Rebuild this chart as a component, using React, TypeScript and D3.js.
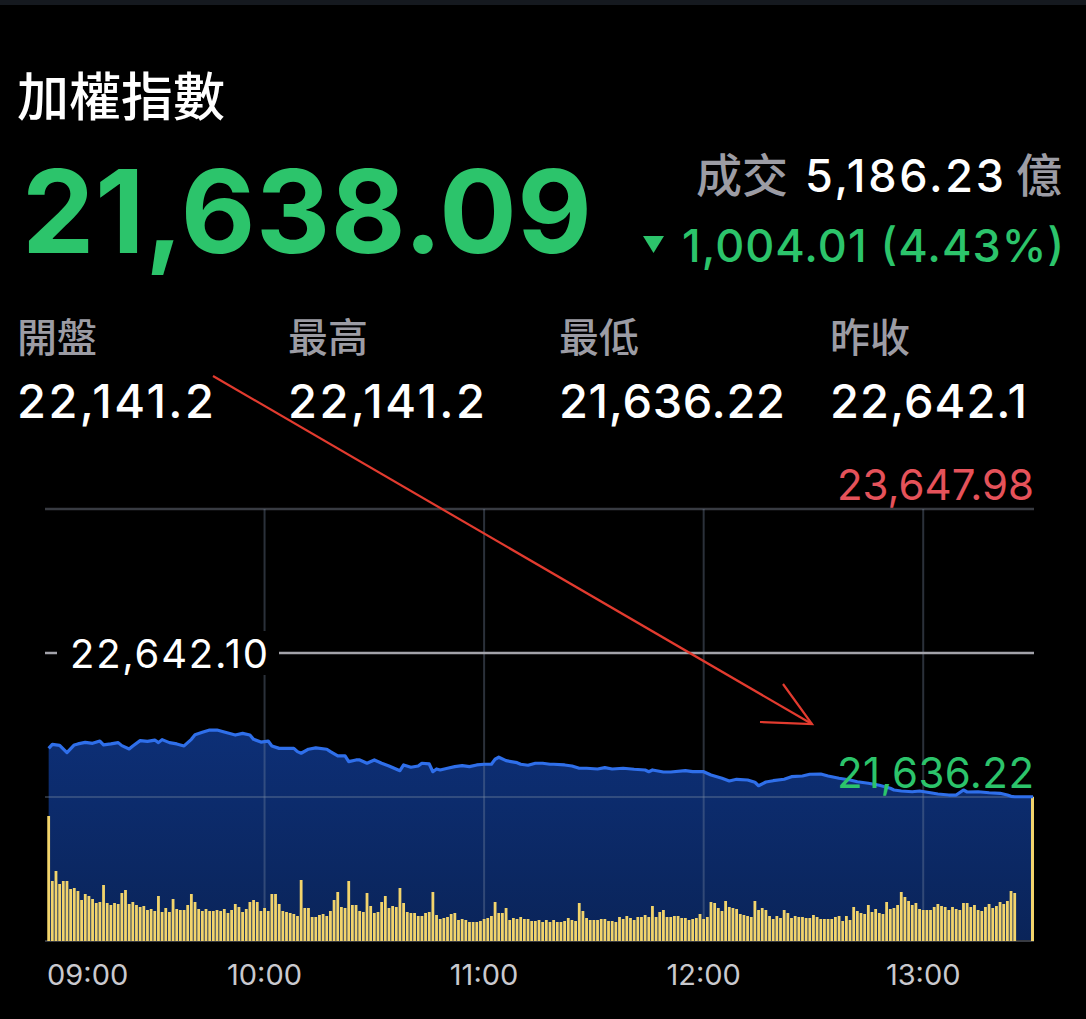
import React from 'react';
import * as d3 from 'd3';

const W = 1086, H = 1019;

// header figures
const indexName = '加權指數';
const lastPrice = '21,638.09';
const turnoverLabel = '成交';
const turnoverValue = '5,186.23';
const turnoverUnit = '億';
const changeText = '1,004.01 (4.43%)';
const statLabels = ['開盤', '最高', '最低', '昨收'];
const statValues = ['22,141.2', '22,141.2', '21,636.22', '22,642.1'];

// reference levels
const upperLevel = 23647.98;
const prevClose = 22642.10;
const dayLow = 21636.22;

const timeTicks = ['09:00', '10:00', '11:00', '12:00', '13:00'];
const sessionEnd = '13:30';

// index line
const priceTimes = [
  '09:01','09:02','09:04','09:06','09:08','09:09','09:11','09:13','09:15','09:16',
  '09:18','09:20','09:21','09:23','09:24','09:26','09:28','09:30','09:31','09:32',
  '09:34','09:36','09:38','09:40','09:41','09:43','09:45','09:47','09:49','09:51',
  '09:52','09:54','09:56','09:57','09:59','10:01','10:02','10:04','10:08','10:09',
  '10:10','10:12','10:14','10:17','10:18','10:20','10:22','10:23','10:25','10:26',
  '10:28','10:30','10:32','10:34','10:37','10:38','10:40','10:42','10:43','10:45',
  '10:46','10:47','10:48','10:50','10:52','10:54','10:56','10:58','11:00','11:02',
  '11:03','11:04','11:06','11:09','11:10','11:12','11:14','11:16','11:18','11:19',
  '11:22','11:24','11:26','11:28','11:31','11:33','11:35','11:38','11:41','11:44',
  '11:45','11:46','11:49','11:51','11:55','11:57','12:00','12:02','12:05','12:07',
  '12:09','12:12','12:14','12:15','12:17','12:19','12:22','12:24','12:27','12:29',
  '12:32','12:34','12:37','12:40','12:42','12:45','12:48','12:51','12:52','12:54',
  '12:57','12:59','13:02','13:04','13:07','13:09','13:11','13:12','13:15','13:18',
  '13:21','13:23','13:24','13:25','13:30',
];
const priceValues = [
  21976,22004,21997,21946,22000,22007,22018,22011,22027,22000,
  22007,22016,21995,21972,21993,22030,22025,22034,22016,22037,
  22016,22007,21993,22039,22071,22088,22104,22104,22090,22076,
  22069,22081,22069,22039,22020,22027,21993,21976,21976,21953,
  21942,21970,21979,21970,21953,21923,21923,21883,21895,21895,
  21872,21895,21872,21853,21820,21860,21844,21853,21872,21867,
  21813,21832,21825,21837,21848,21855,21848,21860,21865,21865,
  21900,21914,21890,21876,21865,21858,21872,21872,21865,21865,
  21860,21853,21837,21837,21832,21841,21832,21837,21830,21825,
  21813,21825,21811,21811,21820,21813,21813,21790,21767,21748,
  21760,21755,21739,21715,21741,21750,21760,21778,21783,21795,
  21797,21783,21767,21755,21743,21732,21718,21697,21685,21678,
  21673,21678,21666,21657,21650,21650,21685,21671,21673,21666,
  21662,21650,21641,21638.09,21638.09,
];

// per-minute turnover (億), 09:01 .. 13:25, then the 13:30 closing auction
const volumeStart = '09:01';
const volumes = [
  75,36,42,34.2,36,36,31.2,31.8,30,24.6,
  28.2,27,25.2,22.8,23.4,33.6,22.8,21.6,22.8,22.2,
  28.8,30.6,22.2,23.4,21.6,20.4,21,18.6,19.2,18,
  27,17.4,19.8,17.4,25.2,19.2,18.6,18.6,21.6,28.2,
  23.4,19.2,18,19.2,18,18,18.6,18,19.2,16.8,
  18.6,22.2,20.4,17.4,19.2,23.4,24.6,23.4,18,19.8,
  18,28.2,28.2,22.2,18,17.4,16.8,16.2,15,
  36.6,19.8,19.8,14.4,14.4,15.6,16.2,15,18,24.6,
  29.4,20.4,19.8,36,21.6,21.6,18,17.4,28.8,21,
  16.8,17.4,23.4,27,19.8,21,20.4,31.8,22.8,17.4,
  16.8,16.8,15,15,16.8,17.4,29.4,15.6,13.2,13.8,
  14.4,16.2,16.8,12.6,13.2,12.6,11.4,11.4,11.4,12,
  13.2,13.8,15,23.4,16.8,16.8,19.8,12.6,13.8,13.2,
  14.4,13.2,13.2,12,12,12.6,11.4,12.6,11.4,
  12.6,11.4,11.4,12,13.8,12.6,12,22.8,18,13.8,
  12.6,12.6,12.6,13.2,13.2,12,12,11.4,14.4,13.2,
  15,13.8,12.6,14.4,14.4,15.6,14.4,21,14.4,17.4,
  18.6,14.4,14.4,15,15,13.8,13.8,12.6,13.2,13.8,
  16.2,13.2,14.4,23.4,22.8,19.8,18,24,20.4,19.8,
  19.2,16.2,15.6,15,14.4,24,18.6,19.8,18.6,15,
  13.2,15,13.8,18.6,16.8,13.8,15,14.4,14.4,
  13.8,13.8,15.6,14.4,13.2,13.2,13.2,13.2,14.4,15,
  12,15,12.6,20.4,18,16.8,16.2,21.6,17.4,19.2,
  16.8,16.2,23.4,19.2,19.8,21.6,29.4,26.4,24,21.6,
  22.8,19.2,18.6,18.6,18.6,20.4,22.2,21,20.4,18.6,
  20.4,19.2,18.6,22.8,22.8,20.4,21.6,18.6,18,20.4,
  22.2,19.8,21,23.4,22.2,24,30,28.8,
];
const closingVolume = 86.4;

const green = '#2cc46b';
const red = '#e5525a';
const gray = '#9c9ca4';
const latin = "Inter, 'Noto Sans CJK TC', sans-serif";
const cjk = "'Noto Sans CJK TC', sans-serif";

const toMin = (t: string) => {
  const [h, m] = t.split(':').map(Number);
  return (h - 9) * 60 + m;
};

// widths of the number strings as they appear in the screenshot
const statWidths = [197, 197, 226, 197];

const App = () => {
  const left = 45, right = 1034, top = 509, bottom = 941;
  const x = d3.scaleLinear().domain([0, toMin(sessionEnd)]).range([left, 1033]);
  const step = upperLevel - prevClose;
  const y = d3.scaleLinear().domain([prevClose - 2 * step, upperLevel]).range([bottom, top]);
  const yVol = d3.scaleLinear().domain([0, 259.2]).range([bottom, top]);

  const pts = priceTimes.map((t, i) => ({ m: toMin(t), v: priceValues[i] }));
  const area = d3.area<{ m: number; v: number }>().x(d => x(d.m)).y0(bottom).y1(d => y(d.v));
  const line = d3.line<{ m: number; v: number }>().x(d => x(d.m)).y(d => y(d.v));

  const v0 = toMin(volumeStart);
  const grid = 'rgba(120,135,160,0.36)';
  const fmt = d3.format(',.2f');

  return (
    <div style={{ position: 'absolute', left: 0, top: 0, width: W, height: H, background: '#000' }}>
      <svg width={W} height={H} style={{ display: 'block' }}>
        <defs>
          <linearGradient id="fill" x1="0" y1="0" x2="0" y2="1">
            <stop offset="0%" stopColor="#0d2f76" />
            <stop offset="100%" stopColor="#0a2459" />
          </linearGradient>
        </defs>
        <rect width={W} height={H} fill="#000" />
        <rect width={W} height={5} fill="#15191f" />

        {/* header */}
        <text x={17} y={116} fill="#fff" fontSize={52} fontWeight={500} fontFamily={cjk}>{indexName}</text>
        <text x={22} y={253} fill={green} fontSize={115} fontWeight={700} fontFamily={latin}
          textLength={570} lengthAdjust="spacing">{lastPrice}</text>

        <text x={696} y={192} fill={gray} fontSize={46} fontWeight={500} fontFamily={cjk}>{turnoverLabel}</text>
        <text x={805} y={192} fill="#fff" fontSize={45} fontWeight={500} fontFamily={latin}
          textLength={199} lengthAdjust="spacing">{turnoverValue}</text>
        <text x={1016} y={192} fill={gray} fontSize={46} fontWeight={500} fontFamily={cjk}>{turnoverUnit}</text>

        <path d="M643,236 L664,236 L653.5,253 Z" fill={green} />
        <text x={682} y={262} fill={green} fontSize={45} fontWeight={500} fontFamily={latin}
          textLength={382} lengthAdjust="spacing">{changeText}</text>

        {statLabels.map((s, i) => (
          <g key={s}>
            <text x={17 + i * 271} y={352} fill={gray} fontSize={40} fontWeight={500} fontFamily={cjk}>{s}</text>
            <text x={17 + i * 271} y={418} fill="#fff" fontSize={47} fontWeight={500} fontFamily={latin}
              textLength={statWidths[i]} lengthAdjust="spacing">{statValues[i]}</text>
          </g>
        ))}

        {/* chart */}
        <path d={area(pts) || ''} fill="url(#fill)" />
        <line x1={left} x2={right} y1={y(upperLevel)} y2={y(upperLevel)} stroke="#383b42" strokeWidth={2.5} />
        {timeTicks.slice(1).map(t => (
          <line key={t} x1={x(toMin(t))} x2={x(toMin(t))} y1={top} y2={bottom} stroke={grid} strokeWidth={2} />
        ))}
        <line x1={left} x2={right} y1={y(dayLow)} y2={y(dayLow)} stroke={grid} strokeWidth={2} />
        <line x1={left} x2={right} y1={bottom} y2={bottom} stroke="#383b42" strokeWidth={2} />

        {volumes.map((v, i) => (
          <rect key={i} x={x(v0 + i) - 1.4} y={yVol(v)} width={2.8} height={bottom - yVol(v)} fill="#f2d46c" />
        ))}
        <rect x={x(toMin(sessionEnd)) - 2} y={yVol(closingVolume)} width={3} height={bottom - yVol(closingVolume)} fill="#f2d46c" />

        <path d={line(pts) || ''} fill="none" stroke="#2f6fea" strokeWidth={3.2} strokeLinejoin="round" />

        <line x1={left} x2={right} y1={y(prevClose)} y2={y(prevClose)} stroke="#a3a3aa" strokeWidth={2.5} />
        <rect x={57} y={y(prevClose) - 22} width={222} height={44} fill="#000" />
        <text x={70} y={y(prevClose) + 15} fill="#fff" fontSize={40} fontFamily={latin}
          textLength={198} lengthAdjust="spacing">{fmt(prevClose)}</text>
        <text x={837} y={y(upperLevel) - 9} fill={red} fontSize={42} fontFamily={latin}
          textLength={197} lengthAdjust="spacing">{fmt(upperLevel)}</text>
        <text x={837} y={y(dayLow) - 9} fill={green} fontSize={42} fontFamily={latin}
          textLength={197} lengthAdjust="spacing">{fmt(dayLow)}</text>

        {timeTicks.map((t, i) => (
          <text key={t} x={i === 0 ? 47 : x(toMin(t))} y={985} textAnchor={i === 0 ? 'start' : 'middle'}
            fill="#c9c9ce" fontSize={29} fontFamily={latin}>{t}</text>
        ))}

        {/* hand-drawn annotation arrow */}
        <g stroke="#e23b2f" strokeWidth={2.2} fill="none">
          <line x1={213} y1={376} x2={812} y2={724} />
          <polyline points="783,684 812,724 760,722" />
        </g>
      </svg>
    </div>
  );
};

export default App;
